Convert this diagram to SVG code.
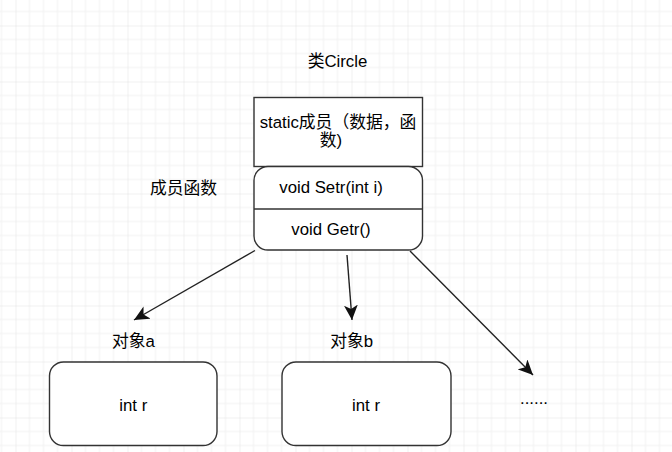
<svg xmlns="http://www.w3.org/2000/svg" width="672" height="452" viewBox="0 0 672 452">
  <style>
    text { font-family: "Liberation Sans", "Noto Sans CJK SC", sans-serif; font-size: 16.8px; fill: #000; }
    .box { fill: #fff; stroke: #333; stroke-width: 1.4; }
    .edge { fill: none; stroke: #222; stroke-width: 1.4; }
    .minor { stroke: #f1f1f1; stroke-width: 1; }
    .major { stroke: #e2e2e2; stroke-width: 1; }
  </style>
  <defs>
    <pattern id="grid" patternUnits="userSpaceOnUse" x="15.5" y="25.5" width="56" height="56">
      <path class="minor" d="M14,0V56M28,0V56M42,0V56M0,14H56M0,28H56M0,42H56"/>
      <path class="major" d="M0,0V56M0,0H56"/>
    </pattern>
    <marker id="arrow" markerUnits="userSpaceOnUse" markerWidth="16" markerHeight="14" viewBox="0 0 16 14" refX="15" refY="7" orient="auto">
      <path d="M0,0 L15,7 L0,14 L4,7 Z" fill="#111"/>
    </marker>
  </defs>
  <rect width="672" height="452" fill="#fff"/>
  <rect width="672" height="452" fill="url(#grid)"/>

  <g id="label-class">
    <text x="337.5" y="67" text-anchor="middle">类Circle</text>
  </g>
  <g id="static-members">
    <rect class="box" x="254" y="97.5" width="168.5" height="69"/>
    <text x="338" y="128" text-anchor="middle">static成员（数据，函</text>
    <text x="331" y="146" text-anchor="middle">数)</text>
  </g>
  <g id="member-functions">
    <rect class="box" x="254" y="166.5" width="168.5" height="83.5" rx="14" ry="14"/>
    <line class="box" x1="254" y1="209" x2="422.5" y2="209"/>
    <text x="331" y="193" text-anchor="middle">void Setr(int i)</text>
    <text x="331" y="234.5" text-anchor="middle">void Getr()</text>
  </g>
  <g id="label-member-functions">
    <text x="183.5" y="194" text-anchor="middle">成员函数</text>
  </g>
  <g id="label-object-a">
    <text x="133.5" y="347" text-anchor="middle">对象a</text>
  </g>
  <g id="label-object-b">
    <text x="351.7" y="347" text-anchor="middle">对象b</text>
  </g>
  <g id="object-a">
    <rect class="box" x="49.5" y="362" width="167.5" height="83.5" rx="14" ry="14"/>
    <text x="133.3" y="410.5" text-anchor="middle">int r</text>
  </g>
  <g id="object-b">
    <rect class="box" x="282" y="362" width="169" height="83.5" rx="14" ry="14"/>
    <text x="366" y="410.5" text-anchor="middle">int r</text>
  </g>
  <g id="more-objects">
    <text x="534" y="404" text-anchor="middle">......</text>
  </g>
  <g id="connectors">
    <line class="edge" x1="255" y1="250.5" x2="134" y2="320" marker-end="url(#arrow)"/>
    <line class="edge" x1="347" y1="255" x2="352" y2="320" marker-end="url(#arrow)"/>
    <line class="edge" x1="410" y1="251" x2="533" y2="375" marker-end="url(#arrow)"/>
  </g>
</svg>
